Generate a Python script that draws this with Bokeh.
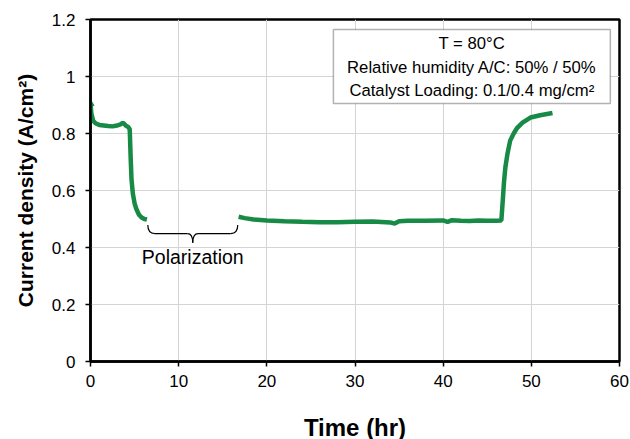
from bokeh.plotting import figure
from bokeh.models import Label, BoxAnnotation, FixedTicker, Range1d
from bokeh.embed import file_html
from bokeh.resources import INLINE

# Data
time_a = [0, 0.1, 0.3, 0.6, 1.0, 1.5, 2.0, 2.5, 3.0, 3.4, 3.7, 4.0, 4.3,
          4.45, 4.55, 4.65, 4.8, 5.0, 5.2, 5.5, 5.8, 6.1, 6.4]
current_a = [0.905, 0.87, 0.845, 0.835, 0.83, 0.828, 0.826, 0.825, 0.828, 0.832,
             0.838, 0.828, 0.822, 0.815, 0.72, 0.64, 0.59, 0.555, 0.535, 0.515,
             0.505, 0.50, 0.498]
time_b = [16.8, 17.5, 18.5, 20, 22, 24, 26, 28, 30, 32, 34, 34.5, 35, 36, 38, 40,
          40.5, 41, 42, 43, 44, 45, 46, 46.6, 46.75, 46.9, 47.05, 47.3, 47.6,
          48.0, 48.4, 49.0, 49.9, 51.0, 52.4]
current_b = [0.508, 0.503, 0.498, 0.495, 0.492, 0.49, 0.489, 0.489, 0.49, 0.491,
             0.488, 0.484, 0.492, 0.494, 0.494, 0.495, 0.49, 0.496, 0.494, 0.493,
             0.495, 0.494, 0.494, 0.495, 0.56, 0.63, 0.68, 0.73, 0.775, 0.80,
             0.82, 0.838, 0.856, 0.864, 0.872]
x_ticks = [0, 10, 20, 30, 40, 50, 60]
y_ticks = [0, 0.2, 0.4, 0.6, 0.8, 1.0, 1.2]
y_tick_labels = {0: "0", 0.2: "0.2", 0.4: "0.4", 0.6: "0.6", 0.8: "0.8", 1.0: "1", 1.2: "1.2"}
info_lines = ["T = 80°C", "Relative humidity A/C: 50% / 50%",
              "Catalyst Loading: 0.1/0.4 mg/cm²"]

GREEN = "#178a46"
FONT = "Liberation Sans"

p = figure(width=630, height=439, output_backend="svg", toolbar_location=None,
           x_range=Range1d(0, 60), y_range=Range1d(0, 1.2),
           min_border_left=90, min_border_right=11, min_border_top=19,
           min_border_bottom=78)
p.frame_width = 529
p.frame_height = 342

p.outline_line_color = "black"
p.outline_line_width = 2.5

for ax in (p.xaxis[0], p.yaxis[0]):
    ax.axis_line_color = "black"
    ax.axis_line_width = 2.5
    ax.major_tick_line_color = "black"
    ax.major_tick_line_width = 1.5
    ax.major_tick_out = 5
    ax.major_tick_in = 0
    ax.minor_tick_line_color = None
    ax.major_label_text_font = FONT
    ax.major_label_text_font_size = "17px"
    ax.major_label_text_color = "black"
    ax.axis_label_text_font = FONT
    ax.axis_label_text_font_style = "bold"
    ax.axis_label_text_color = "black"

p.xaxis.ticker = FixedTicker(ticks=x_ticks)
p.yaxis.ticker = FixedTicker(ticks=y_ticks)
p.yaxis.major_label_overrides = y_tick_labels
p.xaxis.axis_label = "Time (hr)"
p.yaxis.axis_label = "Current density (A/cm²)"
p.xaxis.axis_label_text_font_size = "24px"
p.yaxis.axis_label_text_font_size = "21px"
p.xaxis.major_label_standoff = 8
p.yaxis.major_label_standoff = 10
p.xaxis.axis_label_standoff = 24
p.yaxis.axis_label_standoff = 12

p.grid.grid_line_color = "#d4d4d4"
p.grid.grid_line_width = 1

p.line(time_a, current_a, line_color=GREEN, line_width=4.5)
p.line(time_b, current_b, line_color=GREEN, line_width=4.5)
p.scatter(time_a[:1], current_a[:1], marker="triangle", size=7, color=GREEN)

# brace under polarization gap
bx0, bx1 = 6.5, 16.7
bm = (bx0 + bx1) / 2
d, dm = 0.8, 0.6
ytop, ymid, ytip = 0.479, 0.449, 0.417
p.quadratic(x0=[bx0, bx1, bm - dm, bm + dm], y0=[ytop, ytop, ymid, ymid],
            x1=[bx0 + d, bx1 - d, bm, bm], y1=[ymid, ymid, ytip, ytip],
            cx=[bx0, bx1, bm, bm], cy=[ymid, ymid, ymid, ymid],
            line_color="black", line_width=1.2)
p.segment(x0=[bx0 + d, bm + dm], y0=[ymid, ymid], x1=[bm - dm, bx1 - d],
          y1=[ymid, ymid], line_color="black", line_width=1.2)

p.add_layout(Label(x=bm, y=0.365, text="Polarization", text_align="center",
                   text_baseline="middle", text_font=FONT, text_font_size="19.5px",
                   text_color="black"))

# info box
p.add_layout(BoxAnnotation(left=27.55, right=58.96, bottom=0.905, top=1.165,
                           fill_color="white", fill_alpha=1.0, line_color="black",
                           line_width=1.5, level="overlay"))
for i, t in enumerate(info_lines):
    p.add_layout(Label(x=43.25, y=1.115 - i * 0.082, text=t, text_align="center",
                       text_baseline="middle", text_font=FONT, text_font_size="16.7px",
                       text_color="black", level="overlay"))

open("out.html", "w").write(file_html(p, INLINE))
